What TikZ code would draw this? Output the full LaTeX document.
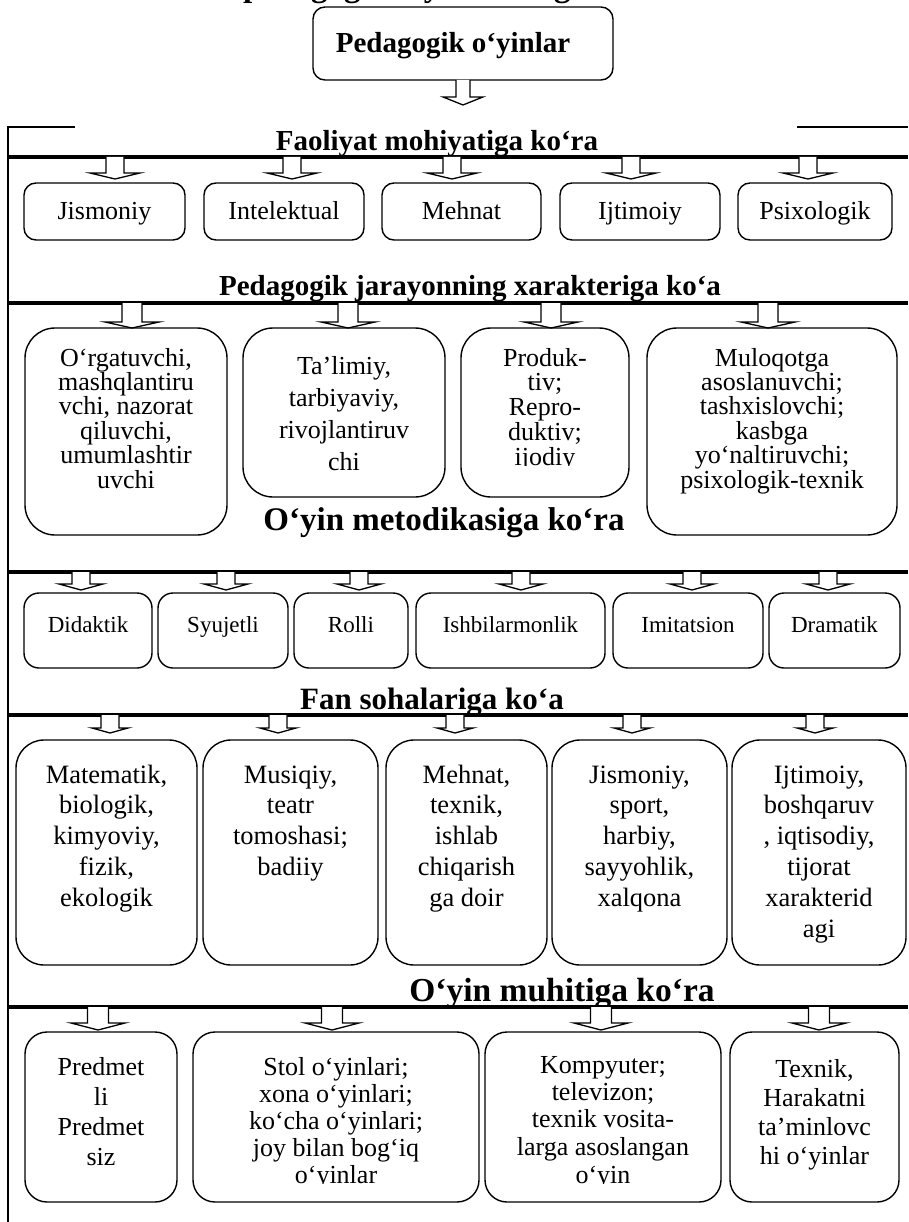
\documentclass[tikz,border=0pt]{standalone}
\usepackage{fontspec}
\setmainfont{Liberation Serif}
\newcommand\Lines[3]{\parbox[t]{300pt}{\centering\fontsize{#1}{#2}\selectfont #3}}
\tikzset{
  rbox/.style={draw, line width=1.4pt, rounded corners=#1},
  txt/.style={anchor=base, inner sep=0pt},
  head/.style={anchor=base, inner sep=0pt, font=\bfseries\fontsize{#1}{#1}\selectfont},
  thickline/.style={line width=3.2pt},
  frameline/.style={line width=2pt},
  arr/.style={line width=1.3pt, fill=white},
  pics/darrow/.style n args={4}{code={
    \draw[arr] (-#1,0) -- (-#1,#3) -- (-#2,#3) -- (0,#3+#4) -- (#2,#3) -- (#1,#3) -- (#1,0);}},
}
\begin{document}
\begin{tikzpicture}[x=1pt,y=-1pt]
\useasboundingbox (0,0) rectangle (908,1222);
% cut-off heading at the top (only its lower edge is inside the picture)
\begin{scope}
\clip (0,0) rectangle (908,30);
\node[head=33, anchor=base west] (toptitle) at (243,-3) {pedagogik o‘yinlarning};
\end{scope}
% title
\node[rbox=12pt, minimum width=300pt, minimum height=73pt, inner sep=0pt] (title) at (463,43.5) {};
\node[head=29] (titletext) at (453,53) {Pedagogik o‘yinlar};
\pic at (463,80) {darrow={7}{20}{17}{8}};
% frame
\draw[frameline] (75,127) -- (8,127) -- (8,1222);
\draw[frameline] (797,127) -- (908,127);
% ---------- section 1
\node[head=29] (h1) at (437,151) {Faoliyat mohiyatiga ko‘ra};
\draw[thickline] (8,157) -- (908,157);
\foreach \x in {115,292,452,631,808} \pic at (\x,157) {darrow={9}{25}{16}{6}};
\foreach \a/\b/\t [count=\i] in {24/185/Jismoniy,204/364/Intelektual,382/541/Mehnat,560/720/Ijtimoiy,738/892/Psixologik}{
  \draw[rbox=12pt] (\a,183) rectangle (\b,240);
  \node[txt] (s1t\i) at ({(\a+\b)/2},220) {\Lines{26}{30}{\t}};
}
% ---------- section 2
\node[head=29] (h2) at (470,296) {Pedagogik jarayonning xarakteriga ko‘a};
\draw[thickline] (8,303) -- (908,303);
\foreach \x in {132,348,551,768} \pic at (\x,303) {darrow={10}{27}{19}{6}};
\draw[rbox=30pt] (25,328) rectangle (227,535);
\draw[rbox=30pt] (243,328) rectangle (445,497);
\draw[rbox=30pt] (461,328) rectangle (629,497);
\draw[rbox=30pt] (647,328) rectangle (897,535);
\node[txt] (s2a) at (126,366) {\Lines{26}{24.4}{O‘rgatuvchi,\\mashqlantiru\\vchi, nazorat\\qiluvchi,\\umumlashtir\\uvchi}};
\node[txt] (s2b) at (344,374) {\Lines{26}{32}{Ta’limiy,\\tarbiyaviy,\\rivojlantiruv\\chi}};
\node[txt] (s2c) at (545,366) {\Lines{26}{24.7}{Produk-\\tiv;\\Repro-\\duktiv;}};
\begin{scope}
\clip (461,440) rectangle (629,465.5);
\node[txt] (s2c5) at (545,465) {\Lines{26}{24.7}{ijodiy}};
\end{scope}
\node[txt] (s2d) at (772,366) {\Lines{26}{24.4}{Muloqotga\\asoslanuvchi;\\tashxislovchi;\\kasbga\\yo‘naltiruvchi;\\psixologik-texnik}};
% ---------- section 3
\node[head=33] (h3) at (444,530) {O‘yin metodikasiga ko‘ra};
\draw[thickline] (8,572) -- (908,572);
\foreach \x in {81,226,359,521,692,828} \pic at (\x,572) {darrow={9}{22}{12}{6}};
\foreach \a/\b/\t [count=\i] in {24/152/Didaktik,158/288/Syujetli,294/408/Rolli,416/605/Ishbilarmonlik,613/763/Imitatsion,769/900/Dramatik}{
  \draw[rbox=15pt] (\a,593) rectangle (\b,668);
  \node[txt] (s3t\i) at ({(\a+\b)/2},632) {\Lines{23}{26}{\t}};
}
% ---------- section 4
\node[head=31] (h4) at (432,709) {Fan sohalariga ko‘a};
\draw[thickline] (8,715) -- (908,715);
\foreach \x in {110,278,455,632,815} \pic at (\x,715) {darrow={9}{18}{13}{5}};
\draw[rbox=28pt] (16,740) rectangle (197,965);
\draw[rbox=28pt] (203,740) rectangle (378,965);
\draw[rbox=28pt] (386,740) rectangle (547,965);
\draw[rbox=28pt] (552,740) rectangle (727,965);
\draw[rbox=28pt] (732,740) rectangle (906,965);
\node[txt] (s4a) at (106.5,783) {\Lines{26.5}{30.8}{Matematik,\\biologik,\\kimyoviy,\\fizik,\\ekologik}};
\node[txt] (s4b) at (290.5,783) {\Lines{26.5}{30.8}{Musiqiy,\\teatr\\tomoshasi;\\badiiy}};
\node[txt] (s4c) at (466.5,783) {\Lines{26.5}{30.8}{Mehnat,\\texnik,\\ishlab\\chiqarish\\ga doir}};
\node[txt] (s4d) at (639.5,783) {\Lines{26.5}{30.8}{Jismoniy,\\sport,\\harbiy,\\sayyohlik,\\xalqona}};
\node[txt] (s4e) at (819,783) {\Lines{26.5}{30.8}{Ijtimoiy,\\boshqaruv\\, iqtisodiy,\\tijorat\\xarakterid\\agi}};
% ---------- section 5
\node[head=33.5] (h5) at (562,1001) {O‘yin muhitiga ko‘ra};
\draw[thickline] (8,1007) -- (908,1007);
\foreach \x in {98,332,601,819} \pic at (\x,1007) {darrow={10.5}{27}{16}{7}};
\draw[rbox=22pt] (25,1032) rectangle (177,1202);
\draw[rbox=22pt] (193,1032) rectangle (479,1202);
\draw[rbox=22pt] (485,1032) rectangle (721,1202);
\draw[rbox=22pt] (730,1032) rectangle (899,1202);
\node[txt] (s5a) at (101,1075) {\Lines{26}{30}{Predmet\\li\\Predmet\\siz}};
\node[txt] (s5b) at (336,1075) {\Lines{26}{27}{Stol o‘yinlari;\\xona o‘yinlari;\\ko‘cha o‘yinlari;\\joy bilan bog‘iq}};
\begin{scope}
\clip (193,1150) rectangle (479,1183.5);
\node[txt] (s5b5) at (336,1183) {\Lines{26}{27}{o‘yinlar}};
\end{scope}
\node[txt] (s5c) at (603,1073) {\Lines{26}{27.4}{Kompyuter;\\televizon;\\texnik vosita-\\larga asoslangan}};
\begin{scope}
\clip (485,1150) rectangle (721,1183.5);
\node[txt] (s5c5) at (603,1183) {\Lines{26}{27}{o‘yin}};
\end{scope}
\node[txt] (s5d) at (814.5,1077) {\Lines{26}{29}{Texnik,\\Harakatni\\ta’minlovc\\hi o‘yinlar}};
\end{tikzpicture}
\end{document}
